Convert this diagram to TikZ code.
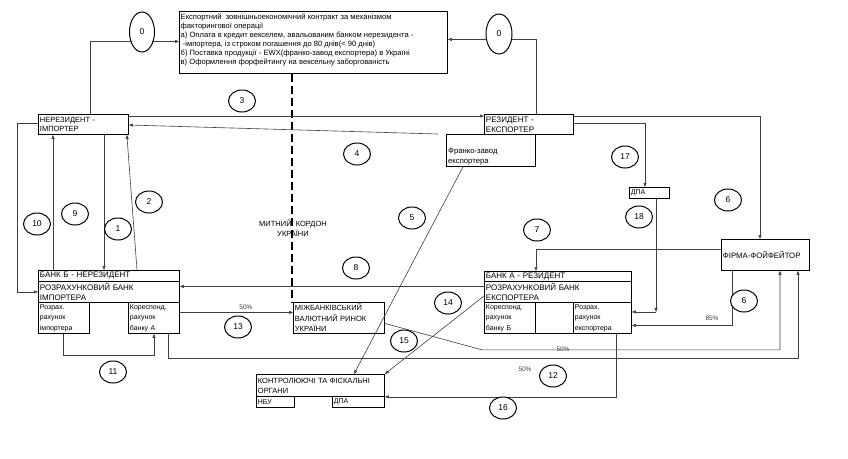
\documentclass[tikz,border=0pt]{standalone}
\usepackage{fontspec}
\setmainfont{Liberation Sans}
\usetikzlibrary{arrows.meta,shapes.geometric}
\begin{document}
\begin{tikzpicture}[x=1pt,y=-1pt,
  box/.style={draw=black,line width=0.85pt,inner xsep=1.5pt,inner ysep=0pt,anchor=north west,align=left,font=\fontsize{7}{9}\selectfont},
  num/.style={ellipse,draw=black,line width=1pt,fill=white,minimum width=27pt,minimum height=22pt,inner sep=0pt,font=\fontsize{8.5}{9}\selectfont},
  conn/.style={draw=black!75,line width=0.6pt},
  arr/.style={conn,-{Triangle[length=4pt,width=3pt]}},
  pct/.style={font=\fontsize{6.5}{8}\selectfont,text=black!75,inner sep=0pt},
  txt/.style={inner sep=0pt,align=left,anchor=north west},
]
\useasboundingbox[fill=white] (0,0) rectangle (848,458);

% ---------- boxes ----------
\node[box,text width=265pt,minimum height=62pt] (contract) at (179,11) {};
\node[txt,font=\fontsize{7.6}{9}\selectfont] (contractT) at ([xshift=1.5pt,yshift=-2.5pt]contract.north west)
 {Експортний\ \ зовнішньоекономічний контракт за механізмом\\
  факторингової операції\\
  а) Оплата в кредит векселем, авальованим банком нерезидента -\\
  \ -імпортера, із строком погашення до 80 днів(< 90 днів)\\
  б) Поставка продукції - EWX(франко-завод експортера) в Україні\\
  в) Оформлення форфейтингу на вексельну заборгованість};

\node[box,text width=87pt,minimum height=20pt,font=\fontsize{7.5}{9}\selectfont] (imp) at (38,114) {НЕРЕЗИДЕНТ -\\ІМПОРТЕР};
\node[box,text width=86pt,minimum height=20pt,font=\fontsize{8}{10}\selectfont] (exp) at (484,114) {РЕЗИДЕНТ -\\ЕКСПОРТЕР};
\node[box,text width=86pt,minimum height=32pt] (franko) at (446,134) {};
\node[txt,font=\fontsize{7.7}{10}\selectfont] (frankoT) at ([xshift=2pt,yshift=-14pt]franko.north west) {Франко-завод\\експортера};

\node[box,text width=138pt,minimum height=11pt,font=\fontsize{8}{9}\selectfont] (bankbH) at (38,270) {БАНК Б - НЕРЕЗИДЕНТ};
\node[box,text width=138pt,minimum height=21pt,font=\fontsize{8}{10}\selectfont] (bankbB) at (38,281) {РОЗРАХУНКОВИЙ БАНК\\ІМПОРТЕРА};
\node[box,text width=48pt,minimum height=31pt,font=\fontsize{7}{10.5}\selectfont] (bankbS1) at (38,302) {Розрах.\\рахунок\\імпортера};
\node[box,text width=48pt,minimum height=31pt,font=\fontsize{7}{10.5}\selectfont] (bankbS2) at (128,302) {Кореспонд.\\рахунок\\банку А};

\node[box,text width=144pt,minimum height=10pt,font=\fontsize{8}{9}\selectfont] (bankaH) at (484,271) {БАНК А - РЕЗИДЕНТ};
\node[box,text width=144pt,minimum height=21pt,font=\fontsize{8}{10}\selectfont] (bankaB) at (484,281) {РОЗРАХУНКОВИЙ БАНК\\ЕКСПОРТЕРА};
\node[box,text width=48pt,minimum height=31pt,font=\fontsize{7}{10.5}\selectfont] (bankaS1) at (484,302) {Кореспонд.\\рахунок\\банку Б};
\node[box,text width=35pt,minimum height=31pt] (bankaS2) at (535,302) {};
\node[box,text width=55pt,minimum height=31pt,font=\fontsize{7}{10.5}\selectfont] (bankaS3) at (573,302) {Розрах.\\рахунок\\експортера};

\node[box,text width=85pt,minimum height=31pt,font=\fontsize{7.8}{9}\selectfont] (firm) at (721,239) {ФІРМА-ФОЙФЕЙТОР};
\node[box,text width=37pt,minimum height=11pt] (dpa) at (629,187) {ДПА};

\node[box,text width=88pt,minimum height=31pt,font=\fontsize{7.5}{10.5}\selectfont] (mvr) at (293,302) {МІЖБАНКІВСЬКИЙ\\ВАЛЮТНИЙ РИНОК\\УКРАЇНИ};
\node[box,text width=125pt,minimum height=22pt,font=\fontsize{7.5}{10}\selectfont] (ctrl) at (256,374) {КОНТРОЛЮЮЧІ ТА ФІСКАЛЬНІ\\ОРГАНИ};
\node[box,text width=35pt,minimum height=11pt] (nbu) at (256,396) {НБУ};
\node[box,text width=49pt,minimum height=11pt] (ctrldpa) at (332,396) {ДПА};

% ---------- border ----------
\draw[black,line width=1.6pt,dash pattern=on 8pt off 4pt] ([xshift=113pt]contract.south west) -- ([xshift=-1pt]mvr.north west);
\node[inner sep=0pt,align=center,font=\fontsize{7.5}{10}\selectfont] (border) at (293,228) {МИТНИЙ\ \ КОРДОН\\УКРАЇНИ};

% ---------- connectors ----------
\draw[arr] ([xshift=52pt]imp.north west) |- ([yshift=1pt]contract.west);
\draw[arr] ([xshift=52pt]exp.north west) |- ([yshift=3pt]contract.east);
\draw[arr] ([yshift=-2pt]imp.north east) -- ([yshift=-2pt]exp.north west);
\draw[arr] ([xshift=-8pt]franko.north west) -- ([yshift=-11pt]imp.north east);
\draw[arr] ([yshift=-2pt]exp.north east) -| ([xshift=39pt]firm.north west);
\draw[arr] ([yshift=-9pt]exp.north east) -| ([xshift=16pt]dpa.north west);
\path ([yshift=6pt]bankaS3.east) -| ([xshift=27pt]dpa.south west) coordinate[pos=0.5] (c18);
\draw[arr] ([xshift=27pt]dpa.south west) -- (c18);
\draw[arr] (c18) -- ([yshift=6pt]bankaS3.east);
\draw[arr] ([xshift=11pt]firm.south west) |- ([yshift=-7.5pt]bankaS3.east);
\draw[arr] ([yshift=-10pt]firm.north west) -| ([xshift=52pt]bankaH.north west);
\draw[arr] ([yshift=5.5pt]bankaB.west) -- ([yshift=5.5pt]bankbB.east);
\draw[arr] ([yshift=-9pt]imp.north west) -| ([xshift=-21pt]bankbB.west) -- (bankbB.west);
\draw[arr] ([xshift=15pt]bankbH.north west) -- ([xshift=15pt]imp.south west);
\draw[arr] ([xshift=66pt]imp.south west) -- ([xshift=66pt]bankbH.north west);
\draw[arr] ([xshift=99pt]bankbH.north west) -- ([xshift=-2pt]imp.south east);
\draw[arr] ([yshift=5.5pt]bankbS2.east) -- ([yshift=5.5pt]mvr.west);
\draw[arr] ([xshift=25pt]bankbS1.south west) -- ([xshift=25pt,yshift=-21pt]bankbS1.south west) -| ([xshift=26pt]bankbS2.south west);
\draw[arr] ([xshift=40pt]bankbS2.south west) -- ([xshift=40pt,yshift=-24pt]bankbS2.south west) -| ([xshift=77pt]firm.south west);
\draw[arr] ([yshift=-5.5pt]mvr.east) -- ([xshift=-2pt,yshift=-16pt]bankaS1.south west) -| ([xshift=59pt]firm.south west);
\draw[arr] ([xshift=43pt]bankaS3.south west) |- (ctrl.south east);
\draw[arr] ([xshift=17pt]franko.south west) -- ([xshift=98pt]ctrl.north west);
\draw[arr] ([yshift=-15pt]bankaB.north west) -- (ctrl.north east);

% ---------- percentages ----------
\node[pct] (p13) at (246,307) {50\%};
\node[pct] (p15) at (563,349) {50\%};
\node[pct] (p12) at (525,369) {50\%};
\node[pct] (p6) at (712,318) {85\%};

% ---------- numbered ellipses ----------
\node[num,minimum width=25pt,minimum height=40pt] (n0L) at (142,32) {0};
\node[num,minimum width=26pt,minimum height=40pt] (n0R) at (499,34) {0};
\node[num] (n3) at (242,101) {3};
\node[num] (n4) at (357,154) {4};
\node[num] (n17) at (625,157) {17};
\node[num] (n18) at (639,217) {18};
\node[num] (n6a) at (728,200) {6};
\node[num] (n5) at (412,218) {5};
\node[num] (n7) at (537,230) {7};
\node[num] (n8) at (356,268) {8};
\node[num] (n10) at (37,224) {10};
\node[num] (n9) at (75,214) {9};
\node[num] (n1) at (118,229) {1};
\node[num] (n2) at (149,202) {2};
\node[num] (n14) at (448,303) {14};
\node[num] (n13) at (238,327) {13};
\node[num] (n15) at (404,341) {15};
\node[num] (n6b) at (744,301) {6};
\node[num] (n11) at (113,372) {11};
\node[num] (n12) at (553,376) {12};
\node[num] (n16) at (503,408) {16};
\end{tikzpicture}
\end{document}
